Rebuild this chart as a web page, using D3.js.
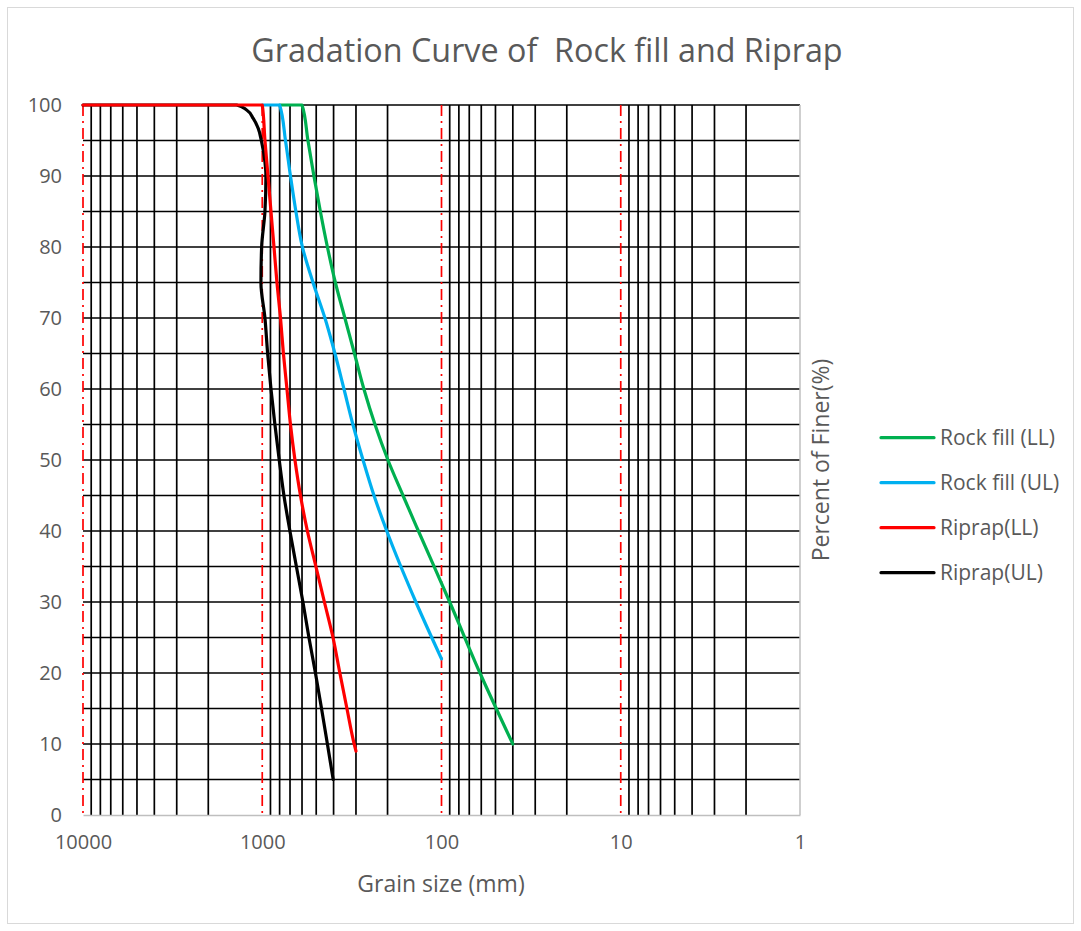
<!DOCTYPE html>
<html>
<head>
<meta charset="utf-8">
<script src="https://cdn.jsdelivr.net/npm/d3@7"></script>
<style>
  html, body { margin: 0; padding: 0; background: #fff; }
  svg { display: block; }
  text { font-family: "Open Sans", "Liberation Sans", sans-serif; fill: #595959; }
</style>
</head>
<body>
<svg id="chart" width="1081" height="931"></svg>
<script>
// Grain sizes (mm) and percent finer for each gradation envelope
const rockFillLLSize = [800, 600, 556, 515, 474, 433, 391, 346, 306, 271, 235, 199, 164, 134.5, 90, 61, 40];
const rockFillLLPct  = [100, 100, 95, 90, 85, 80, 75, 70, 65, 60, 55, 50, 45, 40, 30, 20, 10];

const rockFillULSize = [1000, 800, 742, 696, 649, 597, 521, 447, 393, 350, 312, 274, 238, 202, 139, 100];
const rockFillULPct  = [100, 100, 95, 90, 85, 80, 75, 70, 65, 60, 55, 50, 45, 40, 30, 22];

const riprapLLSize = [10000, 1000, 966, 929, 894, 860, 828, 791, 762, 728, 696, 657, 612, 560, 502, 450, 403, 369, 337, 307, 300];
const riprapLLPct  = [100, 100, 95, 90, 85, 80, 75, 70, 65, 60, 55, 50, 45, 40, 35, 30, 25, 20, 15, 10, 9];

const riprapULSize = [10000, 1389, 1222, 1123, 1053, 1008, 966, 954, 966, 1008, 1017, 966, 933, 894, 850, 804, 757, 701, 645, 593, 549, 505, 467, 433, 402];
const riprapULPct  = [100, 100, 99.3, 98.1, 96.7, 94.8, 92, 90, 85, 80, 75, 70, 65, 60, 55, 50, 45, 40, 35, 30, 25, 20, 15, 10, 5];

const seriesNames  = ["Rock fill (LL)", "Rock fill (UL)", "Riprap(LL)", "Riprap(UL)"];
const seriesColors = ["#00B050", "#00B0F0", "#FF0000", "#000000"];

const xTickValues = [10000, 1000, 100, 10, 1];
const yTickValues = [0, 10, 20, 30, 40, 50, 60, 70, 80, 90, 100];

const series = [
  { name: seriesNames[0], color: seriesColors[0], sizes: rockFillLLSize, pcts: rockFillLLPct, z: 0 },
  { name: seriesNames[1], color: seriesColors[1], sizes: rockFillULSize, pcts: rockFillULPct, z: 1 },
  { name: seriesNames[2], color: seriesColors[2], sizes: riprapLLSize, pcts: riprapLLPct, z: 3 },
  { name: seriesNames[3], color: seriesColors[3], sizes: riprapULSize, pcts: riprapULPct, z: 2 }
];

const svg = d3.select("#chart");
const plot = { left: 83, right: 800, top: 105, bottom: 815 };

// outer chart frame
svg.append("rect")
  .attr("x", 7.5).attr("y", 7.5)
  .attr("width", 1066).attr("height", 916)
  .attr("fill", "#fff").attr("stroke", "#d9d9d9").attr("stroke-width", 1);

const x = d3.scaleLog().domain([10000, 1]).range([plot.left, plot.right]);
const y = d3.scaleLinear().domain([0, 100]).range([plot.bottom, plot.top]);

// title
svg.append("text")
  .attr("x", 547).attr("y", 62)
  .attr("text-anchor", "middle")
  .style("font-size", "32.3px")
  .style("white-space", "pre")
  .text("Gradation Curve of  Rock fill and Riprap");

const grid = svg.append("g");

// horizontal grid every 5 %
grid.selectAll("line.h")
  .data(d3.range(5, 101, 5))
  .join("line")
  .attr("class", "h")
  .attr("x1", plot.left).attr("x2", plot.right)
  .attr("y1", d => y(d)).attr("y2", d => y(d))
  .attr("stroke", "#000").attr("stroke-width", 1.7);

// log-cycle grid: minor subdivisions in black, decades dash-dot red
const allTicks = x.ticks();
const isDecade = d => Math.abs(Math.log10(d) - Math.round(Math.log10(d))) < 1e-9;
const minorTicks = allTicks.filter(d => !isDecade(d));
const decadeTicks = allTicks.filter(d => isDecade(d) && d > 1);

grid.selectAll("line.vminor")
  .data(minorTicks)
  .join("line")
  .attr("class", "vminor")
  .attr("x1", d => x(d)).attr("x2", d => x(d))
  .attr("y1", plot.top).attr("y2", plot.bottom)
  .attr("stroke", "#000").attr("stroke-width", 1.7);

grid.selectAll("line.vmajor")
  .data(decadeTicks)
  .join("line")
  .attr("class", "vmajor")
  .attr("x1", d => x(d)).attr("x2", d => x(d))
  .attr("y1", plot.top).attr("y2", plot.bottom)
  .attr("stroke", "#FF0000").attr("stroke-width", 1.7)
  .attr("stroke-dasharray", "11,5,2,5");

// plot-area right border
svg.append("line")
  .attr("x1", plot.right).attr("x2", plot.right)
  .attr("y1", plot.top).attr("y2", plot.bottom)
  .attr("stroke", "#bfbfbf").attr("stroke-width", 1.5);

// axes
const xAxis = d3.axisBottom(x).tickValues(xTickValues).tickFormat(d3.format("d")).tickSize(0).tickPadding(20);
const gx = svg.append("g").attr("transform", `translate(0,${plot.bottom})`).call(xAxis);
gx.select(".domain").attr("stroke", "#bfbfbf").attr("stroke-width", 1.5);
gx.selectAll("text").style("font-size", "20px").attr("fill", "#595959").attr("font-family", null);

const yAxis = d3.axisLeft(y).tickValues(yTickValues).tickSize(0).tickPadding(21);
const gy = svg.append("g").attr("transform", `translate(${plot.left},0)`).call(yAxis);
gy.select(".domain").remove();
gy.selectAll("text").style("font-size", "20px").attr("fill", "#595959").attr("font-family", null);

// axis titles
svg.append("text")
  .attr("x", 441).attr("y", 892)
  .attr("text-anchor", "middle")
  .style("font-size", "23px")
  .text("Grain size (mm)");

svg.append("text")
  .attr("transform", "translate(829,460) rotate(-90)")
  .attr("text-anchor", "middle")
  .style("font-size", "23px")
  .text("Percent of Finer(%)");

// gradation curves (percent finer is the monotone coordinate)
svg.append("clipPath").attr("id", "plotClip")
  .append("rect")
  .attr("x", plot.left - 2).attr("y", plot.top - 2)
  .attr("width", plot.right - plot.left + 4).attr("height", plot.bottom - plot.top + 4);

const line = d3.line()
  .x(d => x(d[0]))
  .y(d => y(d[1]))
  .curve(d3.curveMonotoneY);

// Riprap(LL) is painted last so its flat 100 % run sits on top
svg.append("g").attr("clip-path", "url(#plotClip)")
  .selectAll("path")
  .data(series.slice().sort((a, b) => a.z - b.z))
  .join("path")
  .attr("d", s => line(s.sizes.map((v, i) => [v, s.pcts[i]])))
  .attr("fill", "none")
  .attr("stroke", s => s.color)
  .attr("stroke-width", 3.2)
  .attr("stroke-linejoin", "round")
  .attr("stroke-linecap", "round");

// legend
const legend = svg.append("g");
const legendRows = legend.selectAll("g")
  .data(series)
  .join("g")
  .attr("transform", (d, i) => `translate(881,${437.7 + i * 45})`);
legendRows.append("line")
  .attr("x1", 0).attr("x2", 53)
  .attr("stroke", d => d.color).attr("stroke-width", 3.2)
  .attr("stroke-linecap", "round");
legendRows.append("text")
  .attr("x", 59).attr("y", 0)
  .attr("dy", "0.35em")
  .style("font-size", "21px")
  .text(d => d.name);
</script>
</body>
</html>
